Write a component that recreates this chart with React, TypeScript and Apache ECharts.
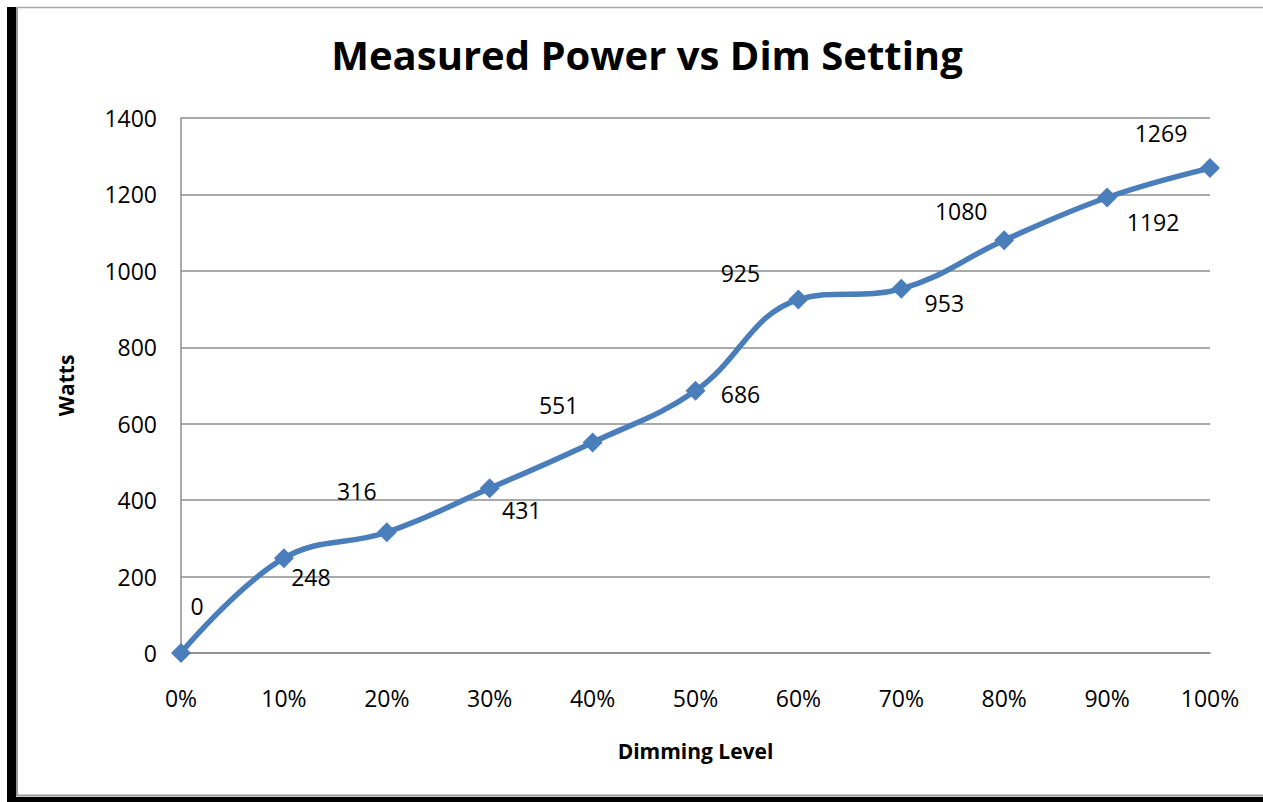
import React, { useEffect, useRef } from "react";
import * as echarts from "echarts";

const categories = ["0%", "10%", "20%", "30%", "40%", "50%", "60%", "70%", "80%", "90%", "100%"];
const watts = [0, 248, 316, 431, 551, 686, 925, 953, 1080, 1192, 1269];
const labelOffsets: [number, number][] = [
  [16, -47], [27, 19], [-30, -41], [32, 22], [-34, -37], [45, 3],
  [-58, -27], [43, 14], [-43, -29], [46, 25], [-49, -35],
];

const FONT = "'Open Sans', 'Noto Sans', sans-serif";

export default function App() {
  const ref = useRef<HTMLDivElement>(null);
  useEffect(() => {
    if (!ref.current) return;
    const chart = echarts.init(ref.current, undefined, { renderer: "svg" });
    chart.setOption({
      animation: false,
      backgroundColor: "#ffffff",
      textStyle: { fontFamily: FONT },
      title: {
        text: "Measured Power vs Dim Setting",
        left: 642,
        textAlign: "center",
        top: 29,
        textStyle: { fontFamily: FONT, fontWeight: "bold", fontSize: 40, color: "#000" },
      },
      graphic: [
        { type: "rect", shape: { x: 7, y: 7, width: 9, height: 795 }, style: { fill: "#000" }, silent: true },
        { type: "rect", shape: { x: 7, y: 797, width: 1256, height: 5 }, style: { fill: "#000" }, silent: true },
        { type: "line", shape: { x1: 16, y1: 7.5, x2: 1263, y2: 7.5 }, style: { stroke: "#a8a8a8", lineWidth: 1.5 }, silent: true },
        { type: "line", shape: { x1: 17, y1: 8, x2: 17, y2: 796 }, style: { stroke: "#9a9a9a", lineWidth: 2 }, silent: true },
        { type: "line", shape: { x1: 16, y1: 795.5, x2: 1263, y2: 795.5 }, style: { stroke: "#9a9a9a", lineWidth: 2 }, silent: true },
      ],
      grid: { left: 181, right: 53, top: 118, bottom: 149, containLabel: false },
      xAxis: {
        type: "category",
        data: categories,
        boundaryGap: false,
        name: "Dimming Level",
        nameLocation: "middle",
        nameGap: 87,
        nameTextStyle: { fontFamily: FONT, fontWeight: "bold", fontSize: 21, color: "#000" },
        axisLine: { show: true, lineStyle: { color: "#8c8c8c", width: 1.5 } },
        axisTick: { show: false },
        axisLabel: { margin: 33, fontSize: 23, color: "#000", fontFamily: FONT },
        splitLine: { show: false },
      },
      yAxis: {
        type: "value",
        min: 0,
        max: 1400,
        interval: 200,
        name: "Watts",
        nameLocation: "middle",
        nameGap: 105,
        nameRotate: 90,
        nameTextStyle: { fontFamily: FONT, fontWeight: "bold", fontSize: 21, color: "#000" },
        axisLine: { show: true, lineStyle: { color: "#8c8c8c", width: 1.5 } },
        axisTick: { show: false },
        axisLabel: {
          margin: 24,
          fontSize: 23,
          color: "#000",
          fontFamily: FONT,
          formatter: (v: number) => String(v),
        },
        splitLine: { show: true, lineStyle: { color: "#8c8c8c", width: 1.5 } },
      },
      series: [
        {
          type: "line",
          data: watts.map((v, i) => ({
            value: v,
            label: { offset: labelOffsets[i] },
          })),
          smooth: 0.4,
          symbol: "diamond",
          symbolSize: 20,
          lineStyle: { color: "#4a7ebb", width: 5.5 },
          itemStyle: { color: "#4a7ebb" },
          label: {
            show: true,
            position: "inside",
            fontSize: 23,
            color: "#000",
            fontFamily: FONT,
          },
        },
      ],
    });
    return () => chart.dispose();
  }, []);
  return (
    <div
      ref={ref}
      style={{ position: "fixed", left: 0, top: 0, width: 1263, height: 802 }}
    />
  );
}
